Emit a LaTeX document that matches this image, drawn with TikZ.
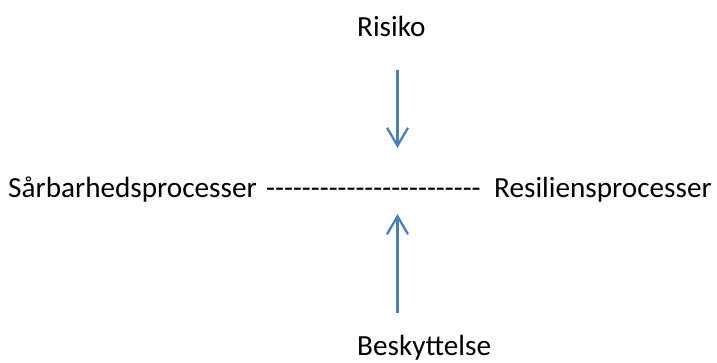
\documentclass[tikz,border=0pt]{standalone}
\usepackage{fontspec}
\setmainfont{Carlito}
\usetikzlibrary{arrows.meta}
\definecolor{arrowblue}{HTML}{4A7EBB}
\tikzset{
  label/.style={inner sep=0pt, anchor=base west, font=\fontsize{29.2}{34}\selectfont},
  flow/.style={draw=arrowblue, line width=2.3pt, -{Straight Barb[length=18pt,width=21pt,line width=2.3pt]}}
}
\begin{document}
\begin{tikzpicture}[x=1pt,y=-1pt]
  \useasboundingbox (0,0) rectangle (717,362);
  \node[label] (risk) at (357,36) {Risiko};
  \node[label] (vuln) at (8,197) {Sårbarhedsprocesser};
  \node[label] (link) at (266,197) {-{}-{}-{}-{}-{}-{}-{}-{}-{}-{}-{}-{}-{}-{}-{}-{}-{}-{}-{}-{}-{}-{}-{}-};
  \node[label] (resil) at (494,197) {Resiliensprocesser};
  \node[label] (prot) at (357,355) {Beskyttelse};
  \coordinate (topstart) at (397.5,70);
  \coordinate (topend) at (397.5,148);
  \coordinate (botstart) at (397.5,313);
  \coordinate (botend) at (397.5,214);
  \draw[flow] (topstart) -- (topend);
  \draw[flow] (botstart) -- (botend);
\end{tikzpicture}
\end{document}
